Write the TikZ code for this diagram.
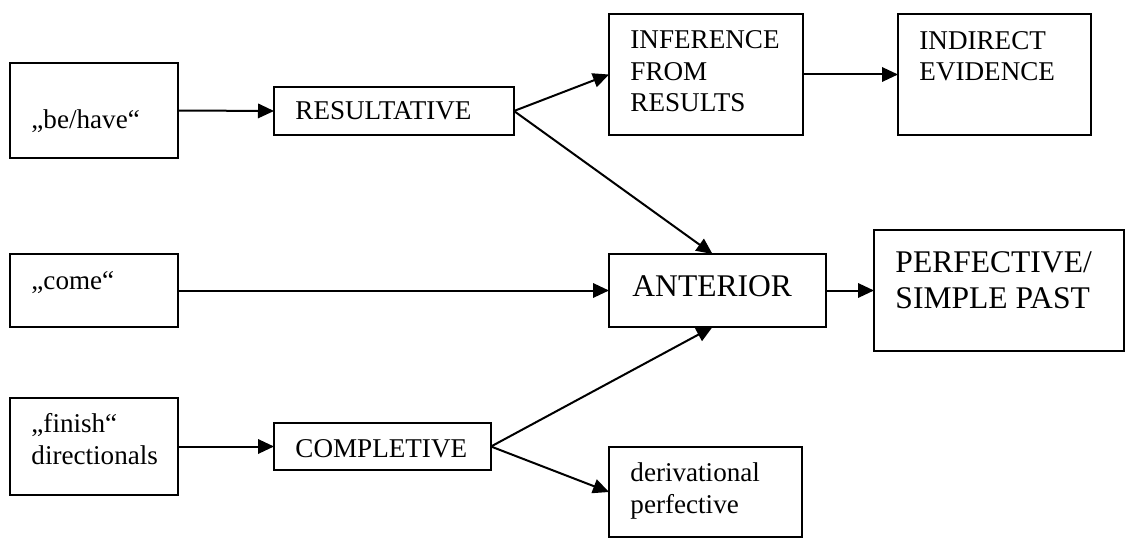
\documentclass[tikz,border=0pt]{standalone}
\usepackage{fontspec}
\setmainfont{Liberation Serif}
\usetikzlibrary{arrows.meta,calc}
\begin{document}
\begin{tikzpicture}[x=0.45pt,y=-0.45pt,
  box/.style 2 args={draw, line width=0.9pt, inner sep=0pt, outer sep=0pt, anchor=north west, minimum width=#1*0.45pt, minimum height=#2*0.45pt},
  lbl/.style={anchor=base west, inner sep=0pt, align=left, font=\fontsize{12.2}{14.3}\selectfont},
  biglbl/.style={lbl, font=\fontsize{14.2}{15.8}\selectfont},
  arr/.style={line width=0.9pt, -{Triangle[length=7.2pt,width=6.5pt]}}]
\useasboundingbox (0,0) rectangle (1127,539);
% boxes
\node[box={168}{95}] (behave) at (10,63) {};
\node[box={168}{73}] (come) at (10,254) {};
\node[box={168}{97}] (finish) at (10,398) {};
\node[box={240}{48}] (result) at (274,87) {};
\node[box={217}{47}] (complet) at (274,423) {};
\node[box={194}{121}] (infer) at (609,14) {};
\node[box={193}{121}] (indirect) at (898,14) {};
\node[box={217}{73}] (anterior) at (609,254) {};
\node[box={250}{121}] (perf) at (874,230) {};
\node[box={193}{90}] (deriv) at (609,447) {};
% texts (base anchor = baseline of the last line)
\node[lbl] (behave-t) at (31,129) {„be/have“};
\node[lbl] (come-t) at (31,290) {„come“};
\node[lbl] (finish-t) at (31,464) {„finish“\\directionals};
\node[lbl] (result-t) at (295,120) {RESULTATIVE};
\node[lbl] (complet-t) at (295,457) {COMPLETIVE};
\node[lbl] (infer-t) at (630,112) {INFERENCE\\FROM\\RESULTS};
\node[lbl] (indirect-t) at (919,81) {INDIRECT\\EVIDENCE};
\node[biglbl] (anterior-t) at (632,296) {ANTERIOR};
\node[biglbl] (perf-t) at (895,308) {PERFECTIVE/\\SIMPLE PAST};
\node[lbl] (deriv-t) at (630,513) {derivational\\perfective};
% connectors
\draw[arr] (behave.east) -- (result.west);
\draw[arr] (result.east) -- (infer.west);
\draw[arr] (result.east) -- ($(anterior.north)+(-5,0)$);
\draw[arr] (infer.east) -- (indirect.west);
\draw[arr] (come.east) -- (anterior.west);
\draw[arr] (anterior.east) -- (perf.west);
\draw[arr] (finish.east) -- (complet.west);
\draw[arr] (complet.east) -- ($(anterior.south)+(-5,0)$);
\draw[arr] (complet.east) -- (deriv.west);
\end{tikzpicture}
\end{document}
